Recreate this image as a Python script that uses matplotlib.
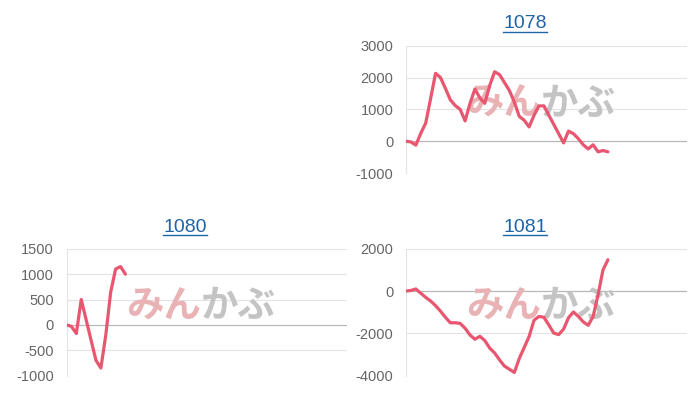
import matplotlib
matplotlib.use("Agg")
import matplotlib.pyplot as plt
from matplotlib.lines import Line2D

plt.rcParams['font.family'] = ['Liberation Sans', 'Noto Sans CJK JP', 'DejaVu Sans']

# number of x slots on each chart (data only fills the first part)
n_slots = 58

titles = ['1078', '1080', '1081']

# cumulative values
pnl_1078 = [0, -20, -120, 250, 570, 1340, 2130, 2000, 1660, 1300, 1120, 1000,
            640, 1190, 1640, 1360, 1190, 1750, 2180, 2090, 1840, 1590, 1230, 780,
            660, 450, 815, 1110, 1110, 820, 530, 240, -50, 320, 240, 80,
            -110, -240, -110, -330, -290, -330]
pnl_1080 = [0, -30, -170, 500, 100, -300, -700, -850, -200, 650, 1100, 1150, 1000]
pnl_1081 = [0, 30, 100, -100, -300, -470, -690, -950, -1240, -1500, -1500, -1530,
            -1760, -2080, -2280, -2140, -2340, -2700, -2930, -3260, -3550, -3700,
            -3850, -3190, -2670, -2150, -1380, -1200, -1240, -1600, -1990, -2060,
            -1800, -1260, -990, -1200, -1460, -1620, -1200, -180, 1000, 1480]

ylims = [(-1000, 3000), (-1000, 1500), (-4000, 2000)]
ysteps = [1000, 500, 2000]

line_color = '#e8566f'
title_color = '#1f63a8'

fig = plt.figure(figsize=(7, 4), dpi=100)

# axes boxes in figure fractions
boxes = [[0.580, 0.567, 0.401, 0.319],
         [0.095, 0.061, 0.400, 0.317],
         [0.580, 0.061, 0.401, 0.317]]
title_pos = [(525 / 700, 1 - 24 / 400), (185 / 700, 1 - 227 / 400), (525 / 700, 1 - 227 / 400)]

title_texts = []
for box, data, title, ylim, step, tpos in zip(boxes, [pnl_1078, pnl_1080, pnl_1081],
                                              titles, ylims, ysteps, title_pos):
    ax = fig.add_axes(box)
    ax.plot(range(len(data)), data, color=line_color, lw=2.3,
            solid_joinstyle='round', solid_capstyle='round', zorder=3)
    ax.set_xlim(0, n_slots - 1)
    ax.set_ylim(*ylim)
    ticks = list(range(ylim[0], ylim[1] + 1, step))
    ax.set_yticks(ticks)
    ax.set_yticklabels([str(t) for t in ticks])
    ax.set_xticks([])
    for t in ticks:
        if t == 0:
            ax.axhline(t, color='#b8b8b8', lw=0.9, zorder=1)
        else:
            ax.axhline(t, color='#e3e3e3', lw=0.8, zorder=1)
    for s in ['top', 'right', 'bottom']:
        ax.spines[s].set_visible(False)
    ax.spines['left'].set_color('#e3e3e3')
    ax.spines['left'].set_linewidth(0.8)
    ax.tick_params(axis='y', length=0, pad=9, labelsize=10.5, labelcolor='#666666')

    # watermark logo
    ax.text(0.48, 0.55, 'みん', transform=ax.transAxes, ha='right', va='center',
            fontsize=27, fontweight='bold', color='#e9b3b6',
            family=['Noto Sans CJK JP'], zorder=2)
    ax.text(0.48, 0.55, 'かぶ', transform=ax.transAxes, ha='left', va='center',
            fontsize=27, fontweight='bold', color='#c4c4c4',
            family=['Noto Sans CJK JP'], zorder=2)

    t = fig.text(tpos[0], tpos[1], title, ha='center', va='center',
                 fontsize=14, color=title_color)
    title_texts.append(t)

# underline the titles (they are links)
fig.canvas.draw()
renderer = fig.canvas.get_renderer()
for t in title_texts:
    bb = t.get_window_extent(renderer).transformed(fig.transFigure.inverted())
    y = bb.y0 + 0.5 / 400
    fig.add_artist(Line2D([bb.x0, bb.x1], [y, y], transform=fig.transFigure,
                          color=title_color, lw=1.0))

fig.savefig('out.png', dpi=100)
